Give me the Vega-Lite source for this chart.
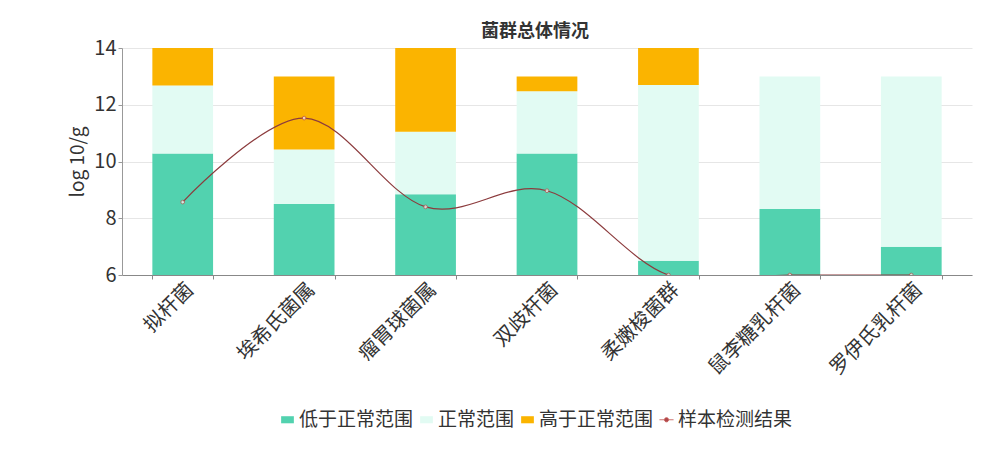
{
  "$schema": "https://vega.github.io/schema/vega-lite/v6.json",
  "autosize": "none",
  "width": 850,
  "height": 227,
  "padding": {"left": 122, "top": 48, "right": 26, "bottom": 178},
  "background": "white",
  "config": {
    "font": "Noto Sans CJK SC",
    "view": {"stroke": null},
    "axis": {"labelColor": "#333", "titleColor": "#333"}
  },
  "title": {
    "text": "菌群总体情况",
    "fontSize": 18,
    "fontWeight": "bold",
    "color": "#333",
    "anchor": "middle",
    "dx": -12,
    "offset": -3
  },
  "datasets": {
    "bars": [
      {"cat": "拟杆菌", "seg": "低于正常范围", "y0": 6, "y1": 10.28},
      {"cat": "拟杆菌", "seg": "正常范围", "y0": 10.28, "y1": 12.68},
      {"cat": "拟杆菌", "seg": "高于正常范围", "y0": 12.68, "y1": 14},
      {"cat": "埃希氏菌属", "seg": "低于正常范围", "y0": 6, "y1": 8.5},
      {"cat": "埃希氏菌属", "seg": "正常范围", "y0": 8.5, "y1": 10.42},
      {"cat": "埃希氏菌属", "seg": "高于正常范围", "y0": 10.42, "y1": 13},
      {"cat": "瘤胃球菌属", "seg": "低于正常范围", "y0": 6, "y1": 8.85},
      {"cat": "瘤胃球菌属", "seg": "正常范围", "y0": 8.85, "y1": 11.05},
      {"cat": "瘤胃球菌属", "seg": "高于正常范围", "y0": 11.05, "y1": 14},
      {"cat": "双歧杆菌", "seg": "低于正常范围", "y0": 6, "y1": 10.28},
      {"cat": "双歧杆菌", "seg": "正常范围", "y0": 10.28, "y1": 12.48},
      {"cat": "双歧杆菌", "seg": "高于正常范围", "y0": 12.48, "y1": 13},
      {"cat": "柔嫩梭菌群", "seg": "低于正常范围", "y0": 6, "y1": 6.5},
      {"cat": "柔嫩梭菌群", "seg": "正常范围", "y0": 6.5, "y1": 12.7},
      {"cat": "柔嫩梭菌群", "seg": "高于正常范围", "y0": 12.7, "y1": 14},
      {"cat": "鼠李糖乳杆菌", "seg": "低于正常范围", "y0": 6, "y1": 8.33},
      {"cat": "鼠李糖乳杆菌", "seg": "正常范围", "y0": 8.33, "y1": 13},
      {"cat": "罗伊氏乳杆菌", "seg": "低于正常范围", "y0": 6, "y1": 7.0},
      {"cat": "罗伊氏乳杆菌", "seg": "正常范围", "y0": 7.0, "y1": 13}
    ],
    "sample": [
      {"cat": "拟杆菌", "value": 8.57},
      {"cat": "埃希氏菌属", "value": 11.53},
      {"cat": "瘤胃球菌属", "value": 8.4},
      {"cat": "双歧杆菌", "value": 8.97},
      {"cat": "柔嫩梭菌群", "value": 6},
      {"cat": "鼠李糖乳杆菌", "value": 6},
      {"cat": "罗伊氏乳杆菌", "value": 6}
    ]
  },
  "encoding": {
    "x": {
      "field": "cat",
      "type": "nominal",
      "sort": ["拟杆菌", "埃希氏菌属", "瘤胃球菌属", "双歧杆菌", "柔嫩梭菌群", "鼠李糖乳杆菌", "罗伊氏乳杆菌"],
      "scale": {"paddingInner": 0.5, "paddingOuter": 0.25},
      "title": null,
      "axis": {
        "labelAngle": -45,
        "labelFontSize": 20,
        "labelPadding": 0,
        "tickBand": "extent",
        "domainColor": "#888",
        "tickColor": "#888",
        "tickSize": 4,
        "grid": false
      }
    }
  },
  "layer": [
    {
      "data": {"name": "bars"},
      "mark": {"type": "bar"},
      "encoding": {
        "y": {
          "field": "y0",
          "type": "quantitative",
          "scale": {"domain": [6, 14], "nice": false, "zero": false},
          "title": "log 10/g",
          "axis": {
            "values": [6, 8, 10, 12, 14],
            "labelFontSize": 20,
            "titleFontSize": 19,
            "titleFontWeight": "normal",
            "titlePadding": 6,
            "gridColor": "#e6e6e6",
            "domainColor": "#999",
            "tickColor": "#999",
            "tickSize": 4
          }
        },
        "y2": {"field": "y1"},
        "color": {
          "field": "seg",
          "type": "nominal",
          "scale": {
            "domain": ["低于正常范围", "正常范围", "高于正常范围", "样本检测结果"],
            "range": ["#52d2af", "#e2fbf3", "#fbb400", "#b0474a"]
          },
          "legend": {
            "title": null,
            "orient": "none",
            "direction": "horizontal",
            "legendX": 156,
            "legendY": 362,
            "labelFontSize": 19,
            "labelColor": "#333",
            "symbolSize": 200,
            "columnPadding": 3,
            "labelOffset": 2,
            "encode": {
              "symbols": {
                "update": {
                  "shape": [
                    {"test": "datum.value === '样本检测结果'", "value": "M-1,0H-0.3M0.3,0H1M-0.3,0A0.3,0.3 0 1,0 0.3,0A0.3,0.3 0 1,0 -0.3,0"},
                    {"value": "M-0.9,-0.5H0.9V0.5H-0.9Z"}
                  ],
                  "fill": [
                    {"test": "datum.value === '样本检测结果'", "value": "#fff"},
                    {"scale": "color", "field": "value"}
                  ],
                  "stroke": [
                    {"test": "datum.value === '样本检测结果'", "value": "#c0504d"},
                    {"value": "transparent"}
                  ],
                  "strokeWidth": {"value": 0.8}
                }
              }
            }
          }
        }
      }
    },
    {
      "data": {"name": "sample"},
      "mark": {"type": "line", "interpolate": "cardinal", "color": "#8c3b3d", "strokeWidth": 1.2, "clip": true},
      "encoding": {
        "y": {"field": "value", "type": "quantitative"}
      }
    },
    {
      "data": {"name": "sample"},
      "mark": {"type": "point", "shape": "circle", "filled": true, "fill": "#fff", "stroke": "#c0504d", "strokeWidth": 1, "size": 14, "clip": true},
      "encoding": {
        "y": {"field": "value", "type": "quantitative"}
      }
    }
  ]
}
